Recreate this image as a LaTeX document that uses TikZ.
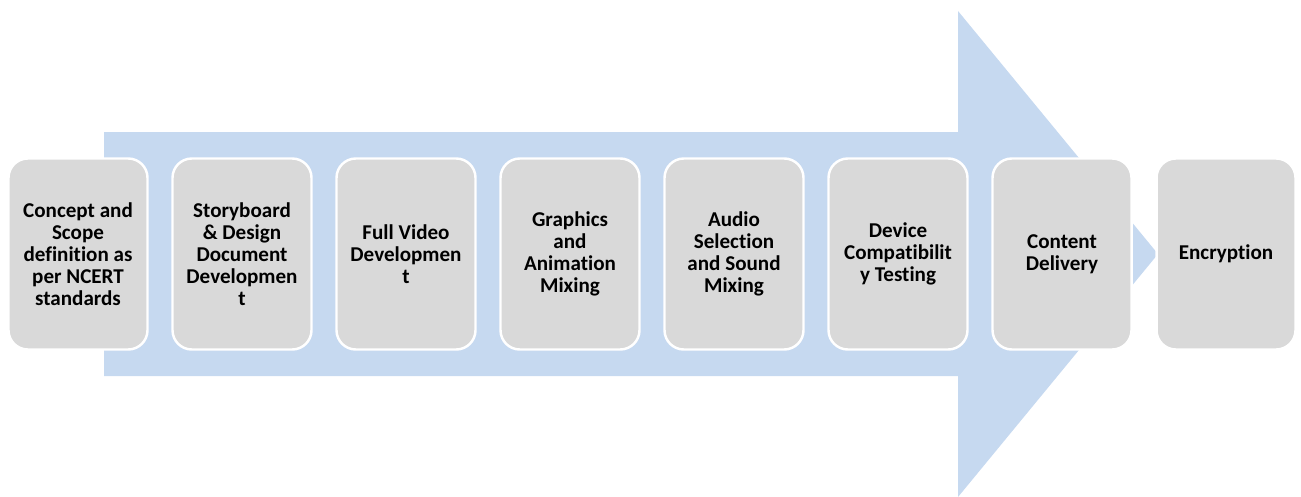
\documentclass[tikz,border=0pt]{standalone}
\usepackage{fontspec}
\setmainfont[Ligatures=NoCommon]{Carlito}
\usepackage{tikz}
\usetikzlibrary{positioning}
\definecolor{flow}{HTML}{C6D9F0}
\definecolor{card}{HTML}{D9D9D9}

\begin{document}
\begin{tikzpicture}[
  stage/.style={fill=card,draw=white,line width=1.4pt,rounded corners=11pt,
    minimum width=2.78cm,minimum height=3.82cm,align=center,text=black,
    font=\fontsize{12}{12.6}\selectfont\bfseries,inner sep=2pt,outer sep=0pt},
  node distance=0.5cm]
  \useasboundingbox (0,0) rectangle (26.02,9.92);
  % big arrow behind the stages
  \fill[flow] (2.08,7.28) -- (19.16,7.28) -- (19.16,9.70) -- (23.16,4.84)
    -- (19.16,-0.02) -- (19.16,2.40) -- (2.08,2.40) -- cycle;
  \node[stage] (concept) at (1.56,4.84)
    {Concept and\\Scope\\definition as\\per NCERT\\standards};
  \node[stage,right=of concept] (story)
    {Storyboard\\\& Design\\Document\\Developmen\\t};
  \node[stage,right=of story] (video) {Full Video\\Developmen\\t};
  \node[stage,right=of video] (graphics) {Graphics\\and\\Animation\\Mixing};
  \node[stage,right=of graphics] (audio) {Audio\\Selection\\and Sound\\Mixing};
  \node[stage,right=of audio] (device) {Device\\Compatibilit\\y Testing};
  \node[stage,right=of device] (delivery) {Content\\Delivery};
  \node[stage,right=of delivery] (encrypt) {Encryption};
\end{tikzpicture}
\end{document}
